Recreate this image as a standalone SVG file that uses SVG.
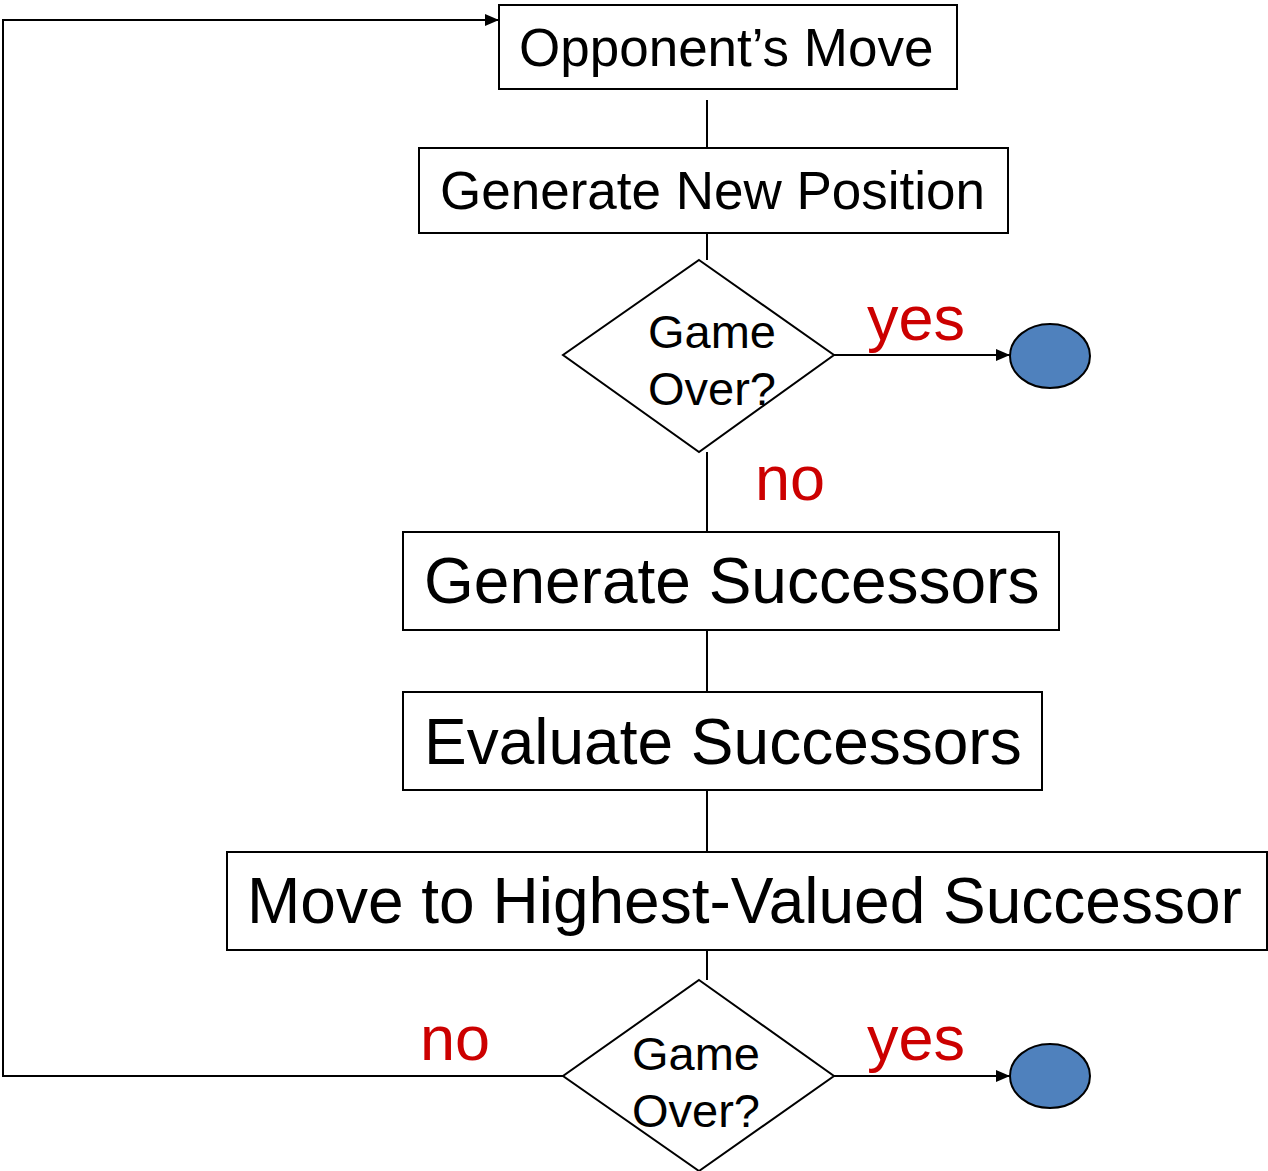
<svg xmlns="http://www.w3.org/2000/svg" width="1268" height="1171" viewBox="0 0 1268 1171">
<style>
.box{fill:#fff;stroke:#000;stroke-width:2}
.dia{fill:#fff;stroke:#000;stroke-width:2}
.term{fill:#4f81bd;stroke:#000;stroke-width:2}
.ln{fill:none;stroke:#000;stroke-width:2}
.t{font-family:"Liberation Sans",Arial,sans-serif;fill:#000}
.lbl{font-family:"Liberation Sans",Arial,sans-serif;fill:#cc0000;font-size:63px}
</style>
<defs>
<marker id="arr" markerWidth="10" markerHeight="10" refX="10" refY="5" orient="auto" markerUnits="userSpaceOnUse" viewBox="0 0 10 10">
<path d="M0,0 L10,5 L0,10 z" fill="#000"/>
</marker>
<marker id="arr2" markerWidth="14" markerHeight="12" refX="14" refY="6" orient="auto" markerUnits="userSpaceOnUse" viewBox="0 0 14 12">
<path d="M0,0 L14,6 L0,12 z" fill="#000"/>
</marker>
</defs>
<g id="connectors">
<line class="ln" x1="707" y1="100" x2="707" y2="148"/>
<line class="ln" x1="707" y1="230" x2="707" y2="260"/>
<line class="ln" x1="834" y1="355" x2="1010" y2="355" marker-end="url(#arr2)"/>
<line class="ln" x1="707" y1="452" x2="707" y2="532"/>
<line class="ln" x1="707" y1="630" x2="707" y2="692"/>
<line class="ln" x1="707" y1="790" x2="707" y2="852"/>
<line class="ln" x1="707" y1="950" x2="707" y2="980"/>
<line class="ln" x1="834" y1="1076" x2="1010" y2="1076" marker-end="url(#arr2)"/>
<polyline class="ln" points="563,1076 3,1076 3,20 499,20" marker-end="url(#arr2)"/>
<text class="lbl" x="867" y="340">yes</text>
<text class="lbl" x="755" y="500">no</text>
<text class="lbl" x="867" y="1060">yes</text>
<text class="lbl" x="420" y="1060">no</text>
</g>
<g id="opponent-move">
<rect class="box" x="499" y="5" width="458" height="84"/>
<text class="t" x="519" y="66" font-size="53">Opponent’s Move</text>
</g>
<g id="generate-new-position">
<rect class="box" x="419" y="148" width="589" height="85"/>
<text class="t" x="440" y="209" font-size="53">Generate New Position</text>
</g>
<g id="game-over-1">
<polygon class="dia" points="699,260 834,355 699,452 563,355"/>
<text class="t" x="648" y="348" font-size="47">Game</text>
<text class="t" x="648" y="405" font-size="47">Over?</text>
</g>
<g id="end-1">
<ellipse class="term" cx="1050" cy="356" rx="40" ry="32"/>
</g>
<g id="generate-successors">
<rect class="box" x="403" y="532" width="656" height="98"/>
<text class="t" x="424" y="603" font-size="64">Generate Successors</text>
</g>
<g id="evaluate-successors">
<rect class="box" x="403" y="692" width="639" height="98"/>
<text class="t" x="424" y="764" font-size="64">Evaluate Successors</text>
</g>
<g id="move-highest">
<rect class="box" x="227" y="852" width="1040" height="98"/>
<text class="t" x="247" y="923" font-size="64">Move to Highest-Valued Successor</text>
</g>
<g id="game-over-2">
<polygon class="dia" points="699,980 834,1076 699,1171 563,1076"/>
<text class="t" x="632" y="1070" font-size="47">Game</text>
<text class="t" x="632" y="1127" font-size="47">Over?</text>
</g>
<g id="end-2">
<ellipse class="term" cx="1050" cy="1076" rx="40" ry="32"/>
</g>
</svg>
